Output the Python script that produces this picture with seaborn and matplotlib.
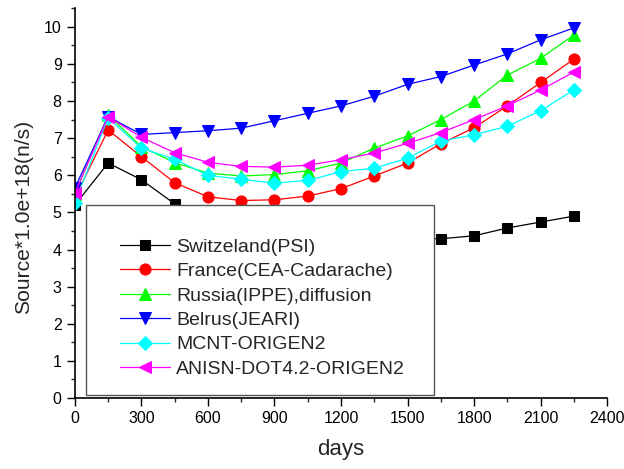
import matplotlib
matplotlib.use("Agg")
import matplotlib.pyplot as plt
import seaborn as sns
import pandas as pd
from matplotlib.patches import Rectangle
from matplotlib.ticker import MultipleLocator

# dati
days = [0, 150, 300, 450, 600, 750, 900, 1050, 1200, 1350, 1500, 1650, 1800, 1950, 2100, 2250]
switzerland = [5.2, 6.33, 5.88, 5.23, 4.95, 4.75, 4.6, 4.5, 4.42, 4.36, 4.31, 4.29, 4.37, 4.58, 4.74, 4.9]
france = [5.4, 7.22, 6.5, 5.8, 5.42, 5.32, 5.34, 5.44, 5.64, 5.98, 6.33, 6.85, 7.28, 7.87, 8.5, 9.13]
russia = [5.5, 7.63, 6.77, 6.34, 6.06, 5.98, 6.02, 6.12, 6.33, 6.73, 7.06, 7.5, 8.0, 8.7, 9.15, 9.78]
belrus = [5.66, 7.58, 7.1, 7.15, 7.2, 7.27, 7.47, 7.67, 7.87, 8.13, 8.45, 8.66, 8.97, 9.27, 9.65, 9.97]
mcnt = [5.26, 7.55, 6.73, 6.43, 6.0, 5.89, 5.79, 5.86, 6.1, 6.19, 6.46, 6.92, 7.09, 7.32, 7.74, 8.3]
anisn = [5.52, 7.58, 7.02, 6.61, 6.35, 6.24, 6.22, 6.27, 6.42, 6.6, 6.86, 7.15, 7.5, 7.87, 8.3, 8.78]

labels = ['Switzeland(PSI)', 'France(CEA-Cadarache)', 'Russia(IPPE),diffusion',
          'Belrus(JEARI)', 'MCNT-ORIGEN2', 'ANISN-DOT4.2-ORIGEN2']
series = [switzerland, france, russia, belrus, mcnt, anisn]
colors = ['black', 'red', '#00ff00', 'blue', 'cyan', 'magenta']
markers = ['s', 'o', '^', 'v', 'D', '<']
msizes = [7, 8, 8, 8, 7, 8]

sns.set_style("ticks")
plt.rcParams['font.family'] = ['Liberation Sans', 'DejaVu Sans']

fig = plt.figure(figsize=(6.24, 4.69), dpi=100)
ax = fig.add_axes([0.120, 0.1514, 0.853, 0.831])

for lab, vals, c, m, ms in zip(labels, series, colors, markers, msizes):
    df = pd.DataFrame({'days': days, 'val': vals})
    sns.lineplot(data=df, x='days', y='val', ax=ax, color=c, marker=m,
                 markersize=ms, markeredgecolor=c, linewidth=0.9, label=lab)

ax.set_xlim(0, 2400)
ax.set_ylim(0, 10.5)
ax.xaxis.set_major_locator(MultipleLocator(300))
ax.xaxis.set_minor_locator(MultipleLocator(150))
ax.yaxis.set_major_locator(MultipleLocator(1))
ax.yaxis.set_minor_locator(MultipleLocator(0.5))
ax.tick_params(which='major', direction='out', length=6, width=1, labelsize=11.5, colors='black')
ax.tick_params(which='minor', direction='out', length=3, width=1)
for s in ['top', 'right']:
    ax.spines[s].set_visible(False)
for s in ['left', 'bottom']:
    ax.spines[s].set_color('black')
    ax.spines[s].set_linewidth(1.2)

ax.set_xlabel('days', fontsize=16)
ax.set_ylabel('Source*1.0e+18(n/s)', fontsize=15.2)
ax.xaxis.set_label_coords(0.5, -0.105)
ax.yaxis.set_label_coords(-0.078, 0.465)

# riquadro della legenda
box = Rectangle((0.0207, 0.0077), 0.654, 0.487, transform=ax.transAxes,
                facecolor='white', edgecolor='#555555', linewidth=1, zorder=4)
ax.add_patch(box)
leg = ax.legend(loc='upper left', bbox_to_anchor=(0.0846, 0.41), frameon=False,
                fontsize=14, handlelength=2.6, handletextpad=0.3, labelspacing=0.35,
                borderaxespad=0, borderpad=0)
leg.set_zorder(5)

plt.savefig('out.png', dpi=100)
plt.close()
